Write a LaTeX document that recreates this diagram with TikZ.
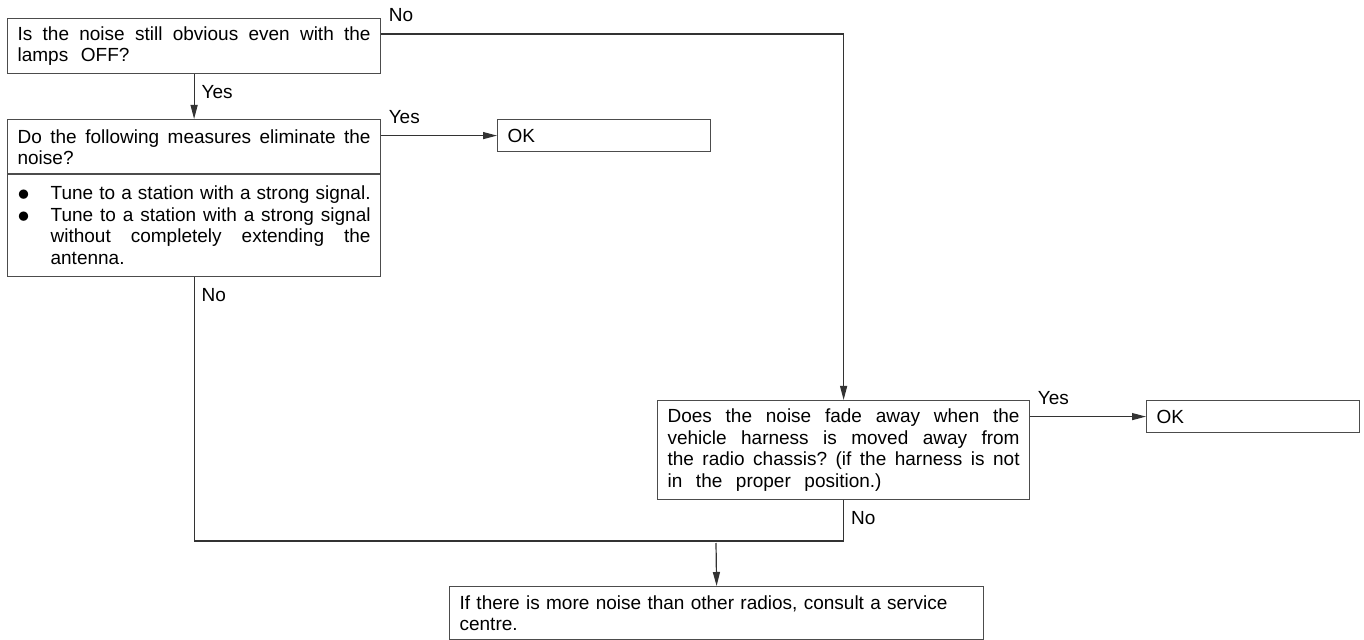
\documentclass[tikz,border=0pt]{standalone}
\usepackage{fontspec}
\usepackage{graphicx}
\setmainfont{Liberation Sans}
\usetikzlibrary{arrows.meta,positioning,calc}

\newcommand{\spreadline}[2]{\leavevmode\hbox to #1{\spaceskip=0.278em plus 1fil\relax #2}}
\newcommand{\fullline}[1]{\spreadline{\hsize}{#1}}
\newcommand{\bigdot}{\raisebox{-0.6pt}{\scalebox{1.3}{$\bullet$}}}
\newcommand{\bulletline}[1]{\leavevmode\makebox[16.5pt][l]{\bigdot}\spreadline{\dimexpr\hsize-16.5pt\relax}{#1}}
\newcommand{\hangline}[1]{\leavevmode\hspace*{16.5pt}\spreadline{\dimexpr\hsize-16.5pt\relax}{#1}}

\begin{document}
\begin{tikzpicture}[x=0.5pt, y=-0.5pt, >={Triangle[length=7pt,width=3.5pt]}]
  % Styles
  \tikzstyle{box} = [rectangle, draw=black!70, line width=0.6pt, anchor=north west, inner xsep=5pt, inner ysep=0pt, align=left, font=\fontsize{9.5}{10.8}\selectfont\frenchspacing]
  \tikzstyle{query} = [box, text width=176.5pt, minimum height=27.5pt]
  \tikzstyle{okbox} = [box, text width=96.5pt, minimum height=16pt]
  \tikzstyle{tag} = [inner sep=0pt, anchor=base west, font=\fontsize{9.5}{10.8}\selectfont]
  \tikzstyle{tagabove} = [tag, xshift=3.5pt, yshift=6.25pt]
  \tikzstyle{tagbelow} = [tag, xshift=3.5pt, yshift=-12pt]
  \tikzstyle{link} = [draw=black!80, line width=0.6pt]

  \useasboundingbox (0,0) rectangle (1364,640);

  % Nodes
  \node [query] (q1) at (7,18) {\fullline{Is the noise still obvious even with the}\\lamps\ \ OFF?};
  \node [query] (q2) at (7,119) {\fullline{Do the following measures eliminate the}\\noise?};
  \node [query, minimum height=51.5pt] (q2list) at (7,173) {%
    \bulletline{Tune to a station with a strong signal.}\\
    \bulletline{Tune to a station with a strong signal}\\
    \hangline{without completely extending the}\\
    \hspace*{16.5pt}antenna.%
  };
  \node [okbox] (ok1) at (497,119) {OK};
  \node [query, text width=176pt, minimum height=49.5pt] (q3) at (657,400) {%
    \fullline{Does the noise fade away when the}\\
    \fullline{vehicle harness is moved away from}\\
    \fullline{the radio chassis? (if the harness is not}\\
    \spreadline{107pt}{in the proper position.)}%
  };
  \node [okbox] (ok2) at (1146,400) {OK};
  \node [box, text width=257pt, minimum height=26.5pt] (final) at (449,586) {If there is more noise than other radios, consult a service\\centre.};
  \coordinate (merge) at (716,541);

  % Paths / Edges
  \draw [link, ->] ([yshift=-8pt]q1.north east) -- node[pos=0, tagabove] {No} ($(q3.north)+(0,-366)$) -- (q3.north);
  \draw [link, ->] (q1.south) -- node[pos=0, tagbelow] {Yes} (q2.north);
  \draw [link, ->] (q2.east |- ok1.west) -- node[pos=0, tagabove] {Yes} (ok1.west);
  \draw [link, ->] (q3.east |- ok2.west) -- node[pos=0, tagabove] {Yes} (ok2.west);
  \draw [link] (q2list.south) -- node[pos=0, tagbelow] {No} (q2list.south |- merge) -- (q3.south |- merge);
  \draw [link] (q3.south) -- node[pos=0, tagbelow] {No} (q3.south |- merge);
  \draw [link, ->] ([yshift=-1pt]merge) -- (final.north);

\end{tikzpicture}
\end{document}
